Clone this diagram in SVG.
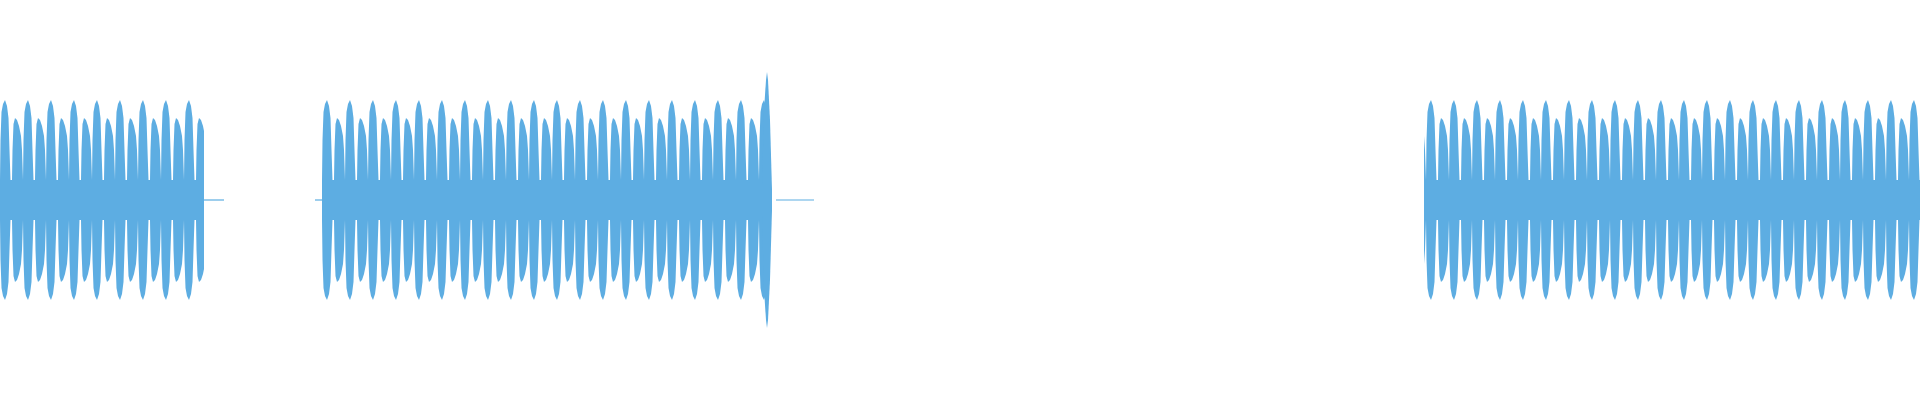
<svg xmlns="http://www.w3.org/2000/svg" width="1920" height="400" viewBox="0 0 1920 400">
<style>.w{fill:url(#lobes)}.t{stroke:#5DADE2;stroke-width:1.2}</style>
<defs>
<pattern id="lobes" patternUnits="userSpaceOnUse" x="0" y="0" width="23" height="400">
<path fill="#5DADE2" d="M0,180 L0.5,140 L1.5,112 L3,104 L5,100 L7,106 L8.5,118 L9.5,150 L10.5,180 L12,180 L12.5,150 L13.5,124 L15,118 L17,120 L19,126 L21,136 L22,150 L23,180 L23,220 L22,250 L21,264 L19,274 L17,280 L15,282 L13.5,276 L12.5,250 L12,220 L10.5,220 L9.5,250 L8.5,282 L7,294 L5,300 L3,296 L1.5,288 L0.5,260 L0,220 Z"/>
</pattern>
</defs>
<rect x="0" y="0" width="1920" height="400" fill="#fff"/>
<g id="connectors">
<line class="t" x1="200" y1="200" x2="224" y2="200"/>
<line class="t" x1="776" y1="200" x2="814" y2="200"/>
<line class="t" x1="315" y1="200" x2="322" y2="200"/>
</g>
<g id="segment1"><rect class="w" x="0" y="90" width="204" height="220"/></g>
<g id="segment2"><rect class="w" x="322" y="90" width="448" height="220"/>
<path fill="#5DADE2" d="M762,185 L764,110 L766,80 L767,72 L768,80 L770,120 L772,190 L772,210 L770,280 L768,320 L767,328 L766,320 L764,290 L762,215 Z"/></g>
<g id="segment3"><rect class="w" x="1424" y="90" width="496" height="220"/></g>
</svg>
